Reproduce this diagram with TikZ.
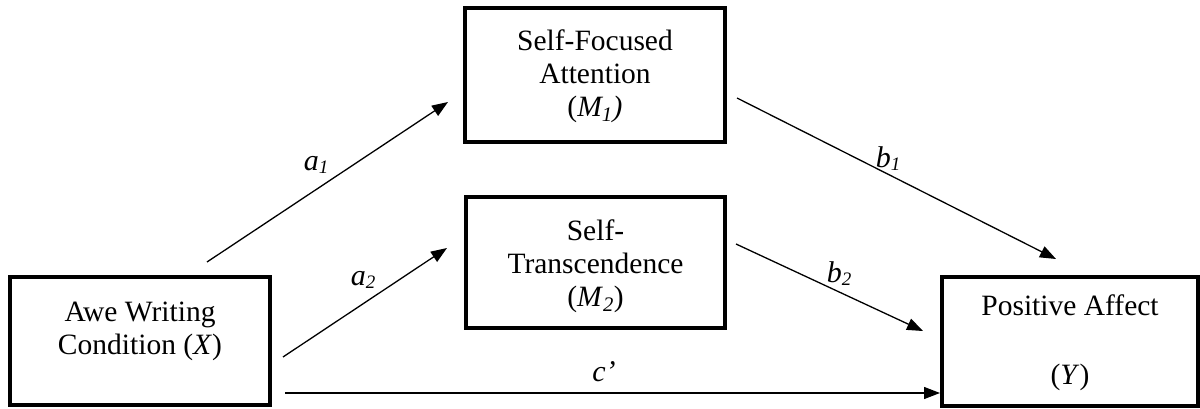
\documentclass[tikz,border=0pt]{standalone}
\usepackage{fontspec}
\setmainfont{Liberation Serif}
\usetikzlibrary{arrows.meta,calc}
\newcommand{\lsub}[1]{\raisebox{-3pt}{\fontsize{19}{19}\selectfont #1}}
\begin{document}
\begin{tikzpicture}[x=1pt,y=-1pt,
  box/.style={draw, line width=3.5pt, inner sep=0pt},
  txt/.style={align=center, font=\fontsize{29.5}{33}\selectfont, inner sep=0pt},
  conn/.style={line width=1.3pt, -{Triangle[length=16pt,width=12pt]}},
  lab/.style={font=\fontsize{30}{33}\selectfont\itshape, inner sep=0pt}]
\useasboundingbox (0,0) rectangle (1200,409);
% boxes
\node[box, minimum width=260pt, minimum height=128pt] (X) at (140,341) {};
\node[box, minimum width=260pt, minimum height=134pt] (M1) at (595,75) {};
\node[box, minimum width=259pt, minimum height=131pt] (M2) at (595.5,262.5) {};
\node[box, minimum width=256pt, minimum height=129pt] (Y) at (1070,341.5) {};
% texts
\node[txt] (Xt) at (140,331) {Awe Writing\\Condition (\textit{X})};
\node[txt] (M1t) at (595,76) {Self-Focused\\Attention\\(\textit{M\textsubscript{1})}};
\node[txt] (M2t) at (595.5,266) {Self-\\Transcendence\\(\textit{M}\textsubscript{\textit{2}})};
\node[txt] (Yt) at (1070,343) {Positive Affect\\[36pt](\textit{Y})};
% connector end points
\coordinate (a1s) at (207,262);
\coordinate (a1e) at (448,102);
\coordinate (a2s) at (283,357);
\coordinate (a2e) at (447,248);
\coordinate (b1s) at (737,98);
\coordinate (b1e) at (1056,259);
\coordinate (b2s) at (736,244);
\coordinate (b2e) at (923,331);
\coordinate (cs) at (285,393);
\coordinate (ce) at (940,393);
\draw[conn] (a1s) -- (a1e);
\draw[conn] (a2s) -- (a2e);
\draw[conn] (b1s) -- (b1e);
\draw[conn] (b2s) -- (b2e);
\draw[conn] (cs) -- (ce);
% labels
\node[lab] (la1) at (316,165) {a\lsub{1}};
\node[lab] (la2) at (363,280) {a\lsub{2}};
\node[lab] (lb1) at (888,159) {b\lsub{1}};
\node[lab] (lb2) at (839,274) {b\lsub{2}};
\node[lab] (lc) at (604,372) {c’};
\end{tikzpicture}
\end{document}
